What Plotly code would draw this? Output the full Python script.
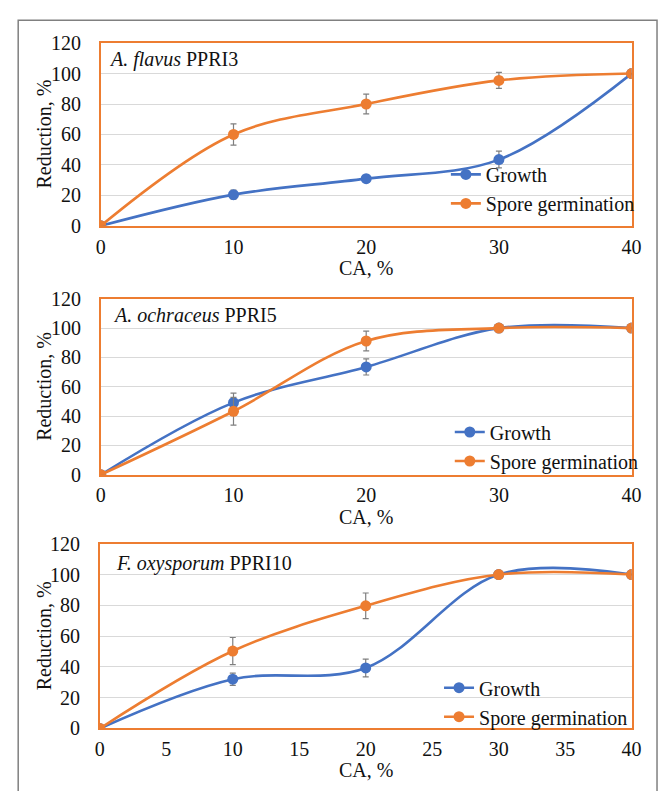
import plotly.graph_objects as go

# Concentration of CA (%) on the x axis
ca_levels = [0, 10, 20, 30, 40]

# A. flavus PPRI3
flavus_growth = [0, 20.5, 31, 43.5, 100]
flavus_growth_err = [0, 3, 2, 5.5, 0]
flavus_spore = [0, 60, 80, 95.5, 100]
flavus_spore_err = [0, 7, 6.5, 5.3, 0]

# A. ochraceus PPRI5
ochraceus_growth = [0, 49.2, 73.5, 100, 100]
ochraceus_growth_err = [0, 6.5, 5.5, 0, 0]
ochraceus_spore = [0, 43.3, 91.2, 100, 100]
ochraceus_spore_err = [0, 9.5, 6.7, 0, 0]

# F. oxysporum PPRI10
oxysporum_growth = [0, 32, 39.3, 100, 100]
oxysporum_growth_err = [0, 4, 5.8, 0, 0]
oxysporum_spore = [0, 50.3, 79.7, 100, 100]
oxysporum_spore_err = [0, 8.8, 8.3, 0, 0]

panel_titles = ["<i>A. flavus</i> PPRI3", "<i>A. ochraceus</i> PPRI5", "<i>F. oxysporum</i> PPRI10"]
series_names = ["Growth", "Spore germination"]
x_tick_steps = [10, 10, 5]

W, H = 668, 791
BLUE = "#4472C4"
ORANGE = "#ED7D31"
GRID = "#D9D9D9"
ERR = "#7F7F7F"
FONT = "Liberation Serif, Times New Roman, serif"
FS = 20
TXT = "#111111"


def px_x(p):
    return p / W


def px_y(p):
    return 1 - p / H


# plot-area pixel boxes: (left, right, top, bottom)
boxes = [(98, 641, 33, 221), (98, 641, 296, 477), (97, 641, 548, 738)]
legend_pos = [(451, 148), (455, 413), (444, 676)]
title_pos = [(104, 50), (108, 313), (112, 568)]

panels = [
    (flavus_growth, flavus_growth_err, flavus_spore, flavus_spore_err),
    (ochraceus_growth, ochraceus_growth_err, ochraceus_spore, ochraceus_spore_err),
    (oxysporum_growth, oxysporum_growth_err, oxysporum_spore, oxysporum_spore_err),
]

fig = go.Figure()
annotations = []
layout_axes = {}

for i, (g, ge, s, se) in enumerate(panels):
    n = i + 1
    xa = "x" if n == 1 else f"x{n}"
    ya = "y" if n == 1 else f"y{n}"
    leg = "legend" if n == 1 else f"legend{n}"
    for vals, errs, name, color in [(g, ge, series_names[0], BLUE), (s, se, series_names[1], ORANGE)]:
        fig.add_trace(go.Scatter(
            x=ca_levels, y=vals, name=name, mode="lines+markers",
            line=dict(color=color, width=2.6, shape="spline", smoothing=1.0),
            marker=dict(color=color, size=11),
            error_y=dict(type="data", array=errs, visible=True, color=ERR, thickness=1.2, width=3),
            xaxis=xa, yaxis=ya, legend=leg, showlegend=True,
        ))

    l, r, t, b = boxes[i]
    xkey = "xaxis" if n == 1 else f"xaxis{n}"
    ykey = "yaxis" if n == 1 else f"yaxis{n}"
    layout_axes[xkey] = dict(
        domain=[px_x(l), px_x(r)], anchor=ya, range=[0, 40], dtick=x_tick_steps[i], tick0=0,
        showgrid=False, zeroline=False, showline=True, mirror=True, linecolor=ORANGE, linewidth=1.5,
        ticks="", ticklabelstandoff=2, tickfont=dict(family=FONT, size=FS, color=TXT),
    )
    layout_axes[ykey] = dict(
        domain=[px_y(b), px_y(t)], anchor=xa, range=[0, 120], dtick=20, tick0=0,
        showgrid=True, gridcolor=GRID, gridwidth=1, zeroline=False,
        showline=True, mirror=True, linecolor=ORANGE, linewidth=1.5,
        ticks="", ticklabelstandoff=14, tickfont=dict(family=FONT, size=FS, color=TXT),
    )
    lx, ly = legend_pos[i]
    layout_axes[leg] = dict(
        x=px_x(lx), y=px_y(ly), xanchor="left", yanchor="top",
        bgcolor="rgba(0,0,0,0)", borderwidth=0, itemwidth=30,
        font=dict(family=FONT, size=FS, color=TXT), tracegroupgap=0,
    )

    tx, ty = title_pos[i]
    annotations.append(dict(
        text=panel_titles[i], x=px_x(tx), y=px_y(ty), xref="paper", yref="paper",
        xanchor="left", yanchor="middle", showarrow=False,
        font=dict(family=FONT, size=FS, color=TXT),
    ))
    annotations.append(dict(
        text="Reduction, %", x=px_x(40), y=px_y((t + b) / 2), xref="paper", yref="paper",
        xanchor="center", yanchor="middle", textangle=-90, showarrow=False,
        font=dict(family=FONT, size=FS, color=TXT),
    ))
    annotations.append(dict(
        text="CA, %", x=px_x((l + r) / 2), y=px_y(b + 43), xref="paper", yref="paper",
        xanchor="center", yanchor="middle", showarrow=False,
        font=dict(family=FONT, size=FS, color=TXT),
    ))

# outer frame (left, top and right edges; it runs past the bottom of the page)
x0, x1, y0, y1 = px_x(13.5), px_x(667), px_y(9.5), px_y(820)
frame = dict(
    type="path", xref="paper", yref="paper",
    path=f"M {x0},{y1} L {x0},{y0} L {x1},{y0} L {x1},{y1}",
    line=dict(color="#808080", width=1.5),
)

fig.update_layout(
    width=W, height=H, margin=dict(l=0, r=0, t=0, b=0),
    paper_bgcolor="white", plot_bgcolor="white",
    annotations=annotations, shapes=[frame],
    **layout_axes,
)

fig.write_html("out.html")
